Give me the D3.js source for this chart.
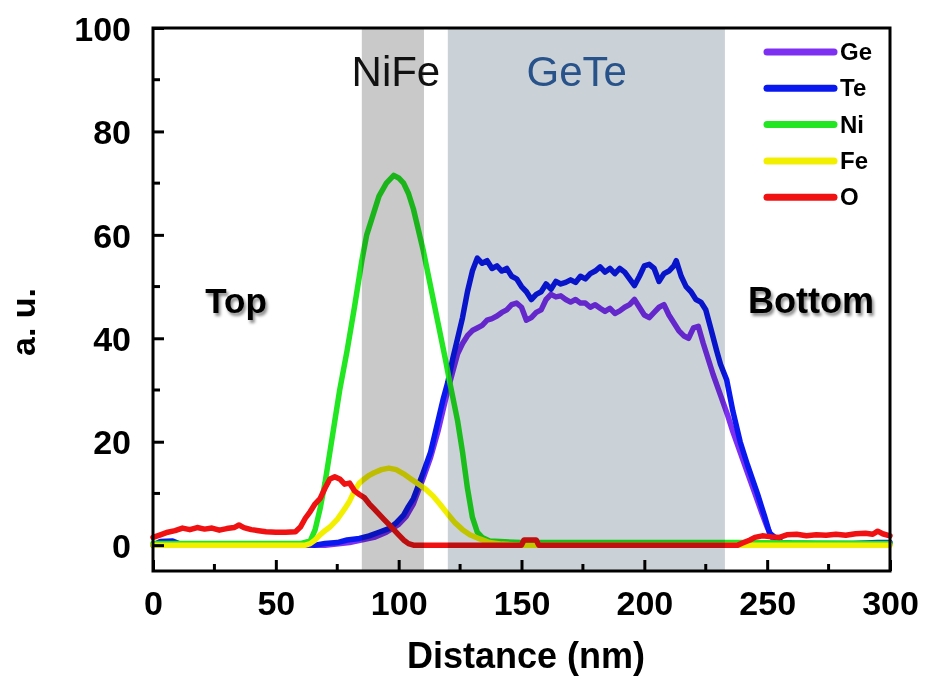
<!DOCTYPE html>
<html>
<head>
<meta charset="utf-8">
<script src="https://cdn.jsdelivr.net/npm/d3@7"></script>
<style>
    body { margin: 0; background: #fff; }
    text { font-family: "Liberation Sans", Arial, sans-serif; }
</style>
</head>
<body>
<div id="chart"></div>
<script>
// EDS line-scan profiles (distance nm, a.u.)
const ge = [[0,0],[60,0],[70,0],[80,0.5],[90,1.5],[95,2.5],[100,4],[103,5.5],[106,8],[108,10.5],[110,13],[113,17],[116,22],[118,26],[120,30],[122,33.5],[124,37],[126,39],[128,40.5],[130,41.5],[132,42],[134,42.5],[136,43.5],[138,43.8],[140,44.3],[142,45],[144,45.5],[146,46.5],[148,46.8],[150,46],[152,43.5],[154,44],[156,45],[158,45.5],[160,47.5],[162,48.5],[164,48],[166,48.2],[168,47.5],[170,47],[172,47.5],[174,46.8],[176,46.8],[178,46],[180,46.5],[182,45.8],[184,45.2],[186,45.8],[188,44.8],[190,45.3],[192,46],[194,46.5],[196,47.5],[198,46],[200,44.5],[202,44],[204,45],[206,46],[208,46.5],[210,44.5],[212,43],[214,41.5],[216,40.5],[218,40],[220,42],[222,42.3],[224,39],[226,36],[228,33],[231,29],[234,25],[236,22],[239,18],[242,14],[245,10],[248,6],[250,3.5],[252,1.5],[254,0.6],[256,0.2],[300,0.2]];

const te = [[0,0],[3,0.7],[8,0.8],[12,0],[50,0],[60,0.2],[66,0],[70,0.3],[75,0.5],[79,1],[84,1.3],[88,1.8],[92,2.5],[96,3.2],[99,4.3],[102,5.8],[104,7.5],[106,9],[108,11.5],[110,14],[113,18],[116,24],[118,28],[120,31.5],[122,36],[124,40],[126,44],[128,49],[130,53],[132,55.5],[134,54.5],[136,55],[138,53.5],[140,54],[142,53],[144,53.5],[146,52],[148,51.5],[150,50],[152,49],[154,47.5],[156,48.5],[158,49],[160,50.5],[162,49.5],[164,51],[166,50.5],[168,50.8],[170,51.3],[172,50.8],[174,52],[176,51.5],[178,52.5],[180,53],[182,53.8],[184,52.8],[186,53.5],[188,52.5],[190,53.5],[192,52.8],[194,51.5],[196,50.2],[198,52],[200,54],[202,54.3],[204,53.5],[206,51],[208,52.5],[210,53],[212,54],[213,55],[215,52],[217,50],[219,49],[221,47.5],[223,47],[225,45.5],[227,42],[229.5,37.5],[231,35],[233.5,32],[236,26],[239,20],[242,15.5],[246,10],[249,5.5],[251,2.3],[254,1.2],[256,0.5],[260,0.4],[270,0.3],[285,0.3],[295,0.5],[300,0.5]];

const ni = [[0,0.3],[60,0.3],[64,0.8],[66,3],[68,7],[70,12],[72,18],[74,24],[76,30],[79,37.6],[82,46],[85,55],[87,60],[89,63],[92,67.5],[95,70],[98,71.5],[100,71],[102,70],[104,68],[106,65],[108,61],[110,57],[113,50],[116,43],[119,36],[121,31],[124,24],[126,18],[128,11],[130,5.4],[132,2.5],[134,1.5],[137,0.8],[150,0.5],[240,0.5],[300,0.3]];

const fe = [[0,0],[62,0],[64,0.3],[66,1],[68,2],[70,2.8],[72,3.5],[75,5],[78,7],[80,8.5],[82,10.5],[84,12],[86,12.8],[88,13.5],[90,14],[93,14.6],[96,14.9],[99,14.6],[102,13.8],[105,12.8],[108,11.8],[111,10.8],[114,9.5],[117,7.8],[120,6],[123,4.3],[126,3],[129,2],[133,1.2],[137,0.5],[142,0.2],[150,0],[300,0]];

const ox = [[0,1.5],[3,2],[6,2.5],[9,2.8],[12,3.3],[15,3],[18,3.4],[21,3.1],[24,3.3],[27,2.9],[30,3.2],[33,3.4],[35,3.9],[37,3.4],[40,3],[43,2.8],[46,2.6],[50,2.5],[54,2.5],[58,2.6],[60,3.5],[62,5.2],[64,6.5],[66,8],[68,9],[70,11],[72,12.8],[74,13.2],[76,12.8],[78,11.8],[80,12],[82,10.5],[84,9.8],[86,9.2],[88,8],[90,7],[92,6],[94,5],[96,4],[98,3],[100,2],[102,1],[104,0.3],[106,0],[150,0],[151,1],[156,1],[157,0],[238,0],[240,0.4],[243,1],[245,1.5],[248,1.8],[252,1.6],[255,1.5],[258,2],[262,2.1],[266,1.8],[270,2],[274,1.9],[278,2.1],[282,1.9],[286,2.2],[290,2.3],[293,2.1],[295,2.7],[297,2.2],[300,1.8]];

const series = [
    { name: "Ge", values: ge, color: "#7d2ff2" },
    { name: "Te", values: te, color: "#0a18f0" },
    { name: "Ni", values: ni, color: "#22e622" },
    { name: "Fe", values: fe, color: "#f2f000" },
    { name: "O",  values: ox, color: "#f01212" }
];

// layer bands (nm)
const bands = [
    { name: "NiFe", from: 85, to: 110.3, fill: "#c9c9c9", text: "#111111" },
    { name: "GeTe", from: 120, to: 232.8, fill: "#cbd2d7", text: "#28528a" }
];

const xTicks = [0, 50, 100, 150, 200, 250, 300];
const yTicks = [0, 20, 40, 60, 80, 100];

const width = 925, height = 681;
const x = d3.scaleLinear().domain([0, 300]).range([153, 890]);
const y = d3.scaleLinear().domain([-5, 100]).range([571, 28]);

const svg = d3.select("#chart").append("svg")
    .attr("width", width)
    .attr("height", height);

const defs = svg.append("defs");
const shadow = defs.append("filter").attr("id", "shadow")
    .attr("x", "-20%").attr("y", "-20%").attr("width", "140%").attr("height", "160%");
shadow.append("feDropShadow")
    .attr("dx", 2).attr("dy", 3).attr("stdDeviation", 1.5)
    .attr("flood-color", "#000").attr("flood-opacity", 0.45);

const line = d3.line()
    .x(d => x(d[0]))
    .y(d => y(d[1]));

svg.append("g")
    .selectAll("path")
    .data(series)
    .join("path")
        .attr("d", d => line(d.values))
        .attr("fill", "none")
        .attr("stroke", d => d.color)
        .attr("stroke-width", 5.5)
        .attr("stroke-linejoin", "round")
        .attr("stroke-linecap", "round");

// shaded layers multiply over the profiles
svg.append("g")
    .selectAll("rect")
    .data(bands)
    .join("rect")
        .attr("x", d => x(d.from))
        .attr("width", d => x(d.to) - x(d.from))
        .attr("y", y(100))
        .attr("height", y(-5) - y(100))
        .attr("fill", d => d.fill)
        .style("mix-blend-mode", "multiply");

svg.append("g")
    .selectAll("text")
    .data(bands)
    .join("text")
        .attr("x", d => d.name === "NiFe" ? x(d.from) + (x(d.to) - x(d.from)) / 2 + 3 : x(d.from) + 129)
        .attr("y", 86)
        .attr("text-anchor", "middle")
        .attr("font-size", 42)
        .attr("fill", d => d.text)
        .text(d => d.name);

// axes
const axisBottom = d3.axisBottom(x).tickValues(xTicks).tickSize(-11).tickPadding(20).tickFormat(d3.format("d"));
const axisLeft = d3.axisLeft(y).tickValues(yTicks).tickSize(-11).tickPadding(22).tickFormat(d3.format("d"));

const gx = svg.append("g").attr("transform", `translate(0,${y(-5)})`).call(axisBottom);
const gy = svg.append("g").attr("transform", `translate(${x(0)},0)`).call(axisLeft);

// minor ticks
gx.selectAll(".minor")
    .data(d3.range(25, 300, 50))
    .join("line")
        .attr("x1", d => x(d)).attr("x2", d => x(d))
        .attr("y1", 0).attr("y2", -7)
        .attr("stroke", "#000").attr("stroke-width", 3);
gy.selectAll(".minor")
    .data(d3.range(10, 100, 20))
    .join("line")
        .attr("y1", d => y(d)).attr("y2", d => y(d))
        .attr("x1", 0).attr("x2", 7)
        .attr("stroke", "#000").attr("stroke-width", 3);

[gx, gy].forEach(g => {
    g.select(".domain").remove();
    g.selectAll(".tick line").attr("stroke", "#000").attr("stroke-width", 3);
    g.selectAll(".tick text")
        .attr("font-size", 34)
        .attr("font-weight", "bold")
        .attr("fill", "#000");
});
gy.selectAll(".tick text").attr("dy", "0.36em");

// frame
svg.append("rect")
    .attr("x", x(0)).attr("y", y(100))
    .attr("width", x(300) - x(0)).attr("height", y(-5) - y(100))
    .attr("fill", "none").attr("stroke", "#000").attr("stroke-width", 3);

// axis titles
svg.append("text")
    .attr("x", 526).attr("y", 668)
    .attr("text-anchor", "middle")
    .attr("font-size", 36).attr("font-weight", "bold")
    .text("Distance (nm)");

svg.append("text")
    .attr("transform", "translate(35,322) rotate(-90)")
    .attr("text-anchor", "middle")
    .attr("font-size", 34).attr("font-weight", "bold")
    .text("a. u.");

// Top / Bottom annotations
svg.append("text")
    .attr("x", 236).attr("y", 313)
    .attr("text-anchor", "middle")
    .attr("font-size", 35).attr("font-weight", "bold")
    .attr("filter", "url(#shadow)")
    .text("Top");
svg.append("text")
    .attr("x", 811).attr("y", 313)
    .attr("text-anchor", "middle")
    .attr("font-size", 36).attr("font-weight", "bold")
    .attr("filter", "url(#shadow)")
    .text("Bottom");

// legend
const legend = svg.append("g")
    .selectAll("g")
    .data(series)
    .join("g")
        .attr("transform", (d, i) => `translate(767,${52 + i * 36.3})`);
legend.append("line")
    .attr("x1", 0).attr("x2", 67)
    .attr("stroke", d => d.color)
    .attr("stroke-width", 7)
    .attr("stroke-linecap", "round");
legend.append("text")
    .attr("x", 73).attr("y", 8)
    .attr("font-size", 24).attr("font-weight", "bold")
    .text(d => d.name);
</script>
</body>
</html>
